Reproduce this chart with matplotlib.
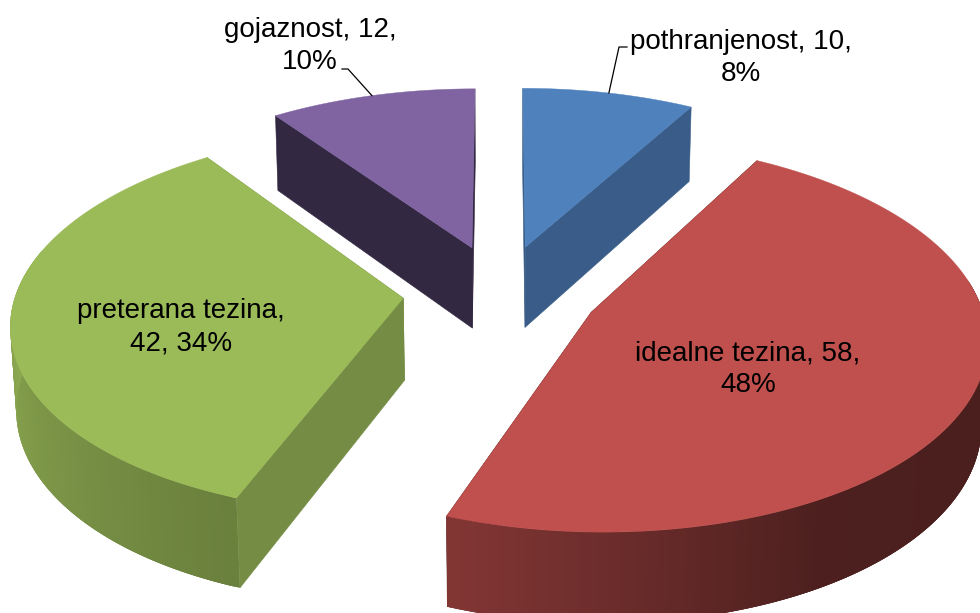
import numpy as np
import matplotlib
matplotlib.use("Agg")
import matplotlib.pyplot as plt
from matplotlib.collections import PolyCollection
from matplotlib.colors import to_rgb

# ---- data ----
categories = ["pothranjenost", "idealne tezina", "preterana tezina", "gojaznost"]
values = [10, 58, 42, 12]

# ---- style ----
top_colors = ["#4F81BD", "#C0504D", "#9BBB59", "#8064A2"]
cut_factors = [0.72, 0.40, 0.75, 0.40]
label_pos = [(741, 58), (748, 369), (181, 327), (310, 46)]
label_breaks = [", {v},\n{p}%", ", {v},\n{p}%", ",\n{v}, {p}%", ", {v},\n{p}%"]
draw_order = [3, 0, 2, 1]
# wall shading against the angle round the pie
wall_angles = [120, 150, 200, 270, 300]
wall_shade = [0.39, 0.40, 0.68, 0.90, 0.90]
wall_range = (80, 285)

# ---- projection parameters (pixels) ----
CX, CY = 501.0, 292.0
AX_, AY_ = 387.0, 188.0
K, Q, DEPTH = 0.12, 0.012, 83.0
EXPLODE = 0.2536


def project(x, y, z=0.0):
    w = 1 + K * np.asarray(y) + Q * z
    return CX + AX_ * np.asarray(x) / w, CY + (-AY_ * np.asarray(y) + DEPTH * z) / w


fig = plt.figure(figsize=(9.8, 6.13), dpi=100, facecolor="white")
ax = fig.add_axes([0, 0, 1, 1])
ax.set_xlim(0, 980)
ax.set_ylim(613, 0)
ax.axis("off")

total = sum(values)
edges = np.concatenate([[0], np.cumsum(values)]) / total * 360.0

for i in draw_order:
    a0, a1 = edges[i], edges[i + 1]
    mid = np.radians((a0 + a1) / 2)
    ox, oy = EXPLODE * np.sin(mid), EXPLODE * np.cos(mid)
    th = np.radians(np.linspace(a0, a1, 241))
    rx, ry = ox + np.sin(th), oy + np.cos(th)
    base = np.array(to_rgb(top_colors[i]))
    tx, ty = project(rx, ry, 0)
    bx, by = project(rx, ry, 1)

    # cut faces
    cut = base * cut_factors[i]
    apx0, apy0 = project(ox, oy, 0)
    apx1, apy1 = project(ox, oy, 1)
    for k in (0, -1):
        ax.fill([apx0, tx[k], bx[k], apx1], [apy0, ty[k], by[k], apy1],
                color=cut, lw=0.4, zorder=1)

    # outer wall: overlapping strips, front-facing part only
    ang = np.degrees(th)
    keep = np.where((ang >= wall_range[0]) & (ang <= wall_range[1]))[0]
    if len(keep) > 1:
        polys, cols = [], []
        for n in range(len(keep) - 1):
            seg = keep[n:n + 4]
            polys.append(np.r_[np.c_[tx[seg], ty[seg]], np.c_[bx[seg], by[seg]][::-1]])
            cols.append(base * np.interp(ang[keep[n]], wall_angles, wall_shade))
        ax.add_collection(PolyCollection(polys, facecolors=cols, edgecolors="none", zorder=1))

    # top face
    ax.fill(np.r_[apx0, tx], np.r_[apy0, ty], color=base, lw=0.3, zorder=1)

# labels
for i, (name, v) in enumerate(zip(categories, values)):
    pct = round(v / total * 100)
    ax.text(label_pos[i][0], label_pos[i][1], name + label_breaks[i].format(v=v, p=pct),
            ha="center", va="center", fontsize=20, family="Liberation Sans",
            color="black", linespacing=1.3, zorder=3)

# leader lines
for i, (kx, ky, ex) in {0: (619, 47, 627), 3: (348, 69, 342)}.items():
    mid = np.radians((edges[i] + edges[i + 1]) / 2)
    px, py = project((1 + EXPLODE) * np.sin(mid), (1 + EXPLODE) * np.cos(mid), 0)
    ax.plot([px, kx, ex], [py, ky, ky], color="black", lw=0.9, zorder=2)

fig.savefig("out.png", dpi=100, facecolor="white")
